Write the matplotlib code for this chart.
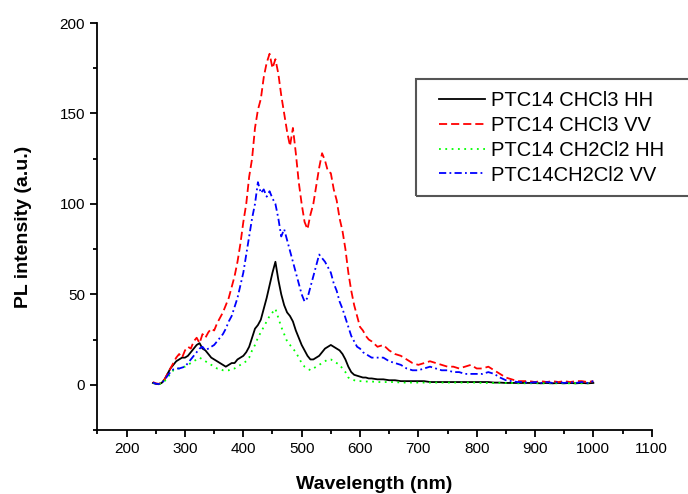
import numpy as np
import matplotlib
matplotlib.use("Agg")
import matplotlib.pyplot as plt
from matplotlib.patches import Rectangle

plt.rcParams['font.family'] = ['Liberation Sans', 'DejaVu Sans']

# wavelength grid (nm): 5 nm steps up to 620, then 10 nm steps
wavelength = np.concatenate([np.arange(245, 625, 5), np.arange(630, 1010, 10)])

chcl3_hh = [
    1, 0.5, 0.3, 1, 3, 6, 9, 11, 13, 14, 15, 15, 16, 18, 20, 22, 23, 20, 19, 17,
    15, 14, 13, 12, 11, 10, 11, 12, 12, 14, 15, 16, 18, 21, 26, 31, 33, 36, 42, 48,
    55, 62, 68, 58, 50, 44, 40, 38, 35, 30, 26, 22, 19, 16, 14, 14, 15, 16, 18, 20,
    21, 22, 21, 20, 19, 17, 14, 10, 7, 5.5, 5, 4.5, 4, 4, 3.5, 3.5,
    3, 3, 2.5, 2.5, 2, 2, 2, 2, 2, 1.5, 1.5, 1.5, 1.5, 1.5, 1.5, 1.5, 1.5, 1.5, 1.5, 1.5,
    1.2, 1.2, 1, 1, 1, 1, 1, 1, 0.8, 1, 0.8, 1, 0.8, 1, 0.8, 1, 0.8, 1,
]

chcl3_vv = [
    1.5, 0.8, 0.5, 1.2, 3, 6, 9, 12, 15, 17, 15, 19, 21, 20, 24, 26, 23, 28, 26, 29,
    31, 30, 34, 37, 40, 44, 48, 54, 60, 68, 78, 90, 100, 115, 125, 142, 152, 158, 170, 178,
    183, 175, 180, 172, 160, 150, 140, 132, 142, 128, 112, 100, 90, 86, 94, 100, 110, 120, 128, 124,
    118, 117, 108, 102, 92, 85, 75, 62, 52, 44, 38, 32, 30, 27, 25, 24,
    21, 22, 19, 17, 16, 14, 12, 11, 12, 13, 12, 11, 10, 10, 9, 10, 11, 9, 9, 10,
    8, 6, 4, 3, 2, 2, 2, 1.5, 2, 1.5, 2, 1.5, 2, 1.5, 2, 2, 1.5, 2,
]

ch2cl2_hh = [
    1, 0.5, 0.3, 0.8, 2, 4, 6, 8, 9, 9, 10, 10, 11, 12, 13, 14, 15, 14, 13, 12,
    11, 10, 9, 9, 8, 8, 8, 9, 9, 10, 11, 12, 13, 15, 19, 22, 26, 29, 32, 35,
    38, 40, 42, 37, 32, 28, 24, 22, 20, 18, 15, 12, 10, 9, 8, 9, 10, 11, 12, 13,
    14, 14, 13, 12, 11, 9, 7, 4, 3, 2.5, 2, 2, 2, 1.8, 1.8, 1.8,
    1.5, 1.5, 1.5, 1.5, 1.2, 1.2, 1.2, 1.2, 1.2, 1.2, 1.2, 1.2, 1.2, 1.2, 1.2, 1.2, 1.2, 1.2, 1, 1,
    1, 1, 1, 1, 0.8, 0.8, 0.8, 0.8, 0.8, 0.8, 0.8, 0.8, 0.8, 0.8, 0.8, 0.8, 0.8, 0.8,
]

ch2cl2_vv = [
    1.2, 0.6, 0.4, 1, 2.5, 5, 7, 8.5, 9, 9, 9.5, 10, 12, 14, 16, 18, 20, 21, 19, 20,
    21, 22, 24, 26, 28, 31, 35, 38, 43, 48, 55, 62, 72, 82, 92, 100, 112, 106, 108, 104,
    107, 103, 100, 92, 82, 86, 80, 74, 68, 62, 56, 50, 46, 48, 54, 60, 66, 72, 70, 68,
    65, 62, 56, 52, 46, 42, 37, 32, 27, 24, 21, 20, 18, 17, 16, 15,
    15, 15, 13, 12, 11, 9, 8, 8, 9, 10, 9, 8, 8, 7, 7, 6, 6, 6, 6, 7,
    6, 4, 2.5, 2, 1.5, 1.5, 1, 1.5, 1, 1.5, 1, 1.5, 1, 1.5, 1, 1.5, 1, 2,
]

fig = plt.figure(figsize=(6.88, 4.94), dpi=100)
ax = fig.add_axes([0.1417, 0.1296, 0.8055, 0.8238])

ax.plot(wavelength, chcl3_hh, color='black', lw=1.3, linestyle='-', label='PTC14 CHCl3 HH')
ax.plot(wavelength, chcl3_vv, color='#ff0000', lw=1.3, linestyle=(0, (4.5, 2.2)), label='PTC14 CHCl3 VV')
ax.plot(wavelength, ch2cl2_hh, color='#00ff00', lw=1.3, linestyle=(0, (1, 2.5)), label='PTC14 CH2Cl2 HH')
ax.plot(wavelength, ch2cl2_vv, color='#0000ff', lw=1.3, linestyle=(0, (4, 1.8, 1, 1.8)), label='PTC14CH2Cl2 VV')

ax.set_xlim(150, 1100)
ax.set_ylim(-25, 200)
ax.set_xticks(np.arange(200, 1101, 100))
ax.set_xticks(np.arange(150, 1101, 50), minor=True)
ax.set_yticks(np.arange(0, 201, 50))
ax.set_yticks(np.arange(-25, 201, 25), minor=True)

for side in ['top', 'right']:
    ax.spines[side].set_visible(False)
for side in ['left', 'bottom']:
    ax.spines[side].set_linewidth(1.3)

ax.tick_params(which='major', direction='out', length=5, width=1.3, labelsize=11, pad=4)
ax.tick_params(which='minor', direction='out', length=3, width=1.3)

ax.set_xlabel('Wavelength (nm)', fontsize=14, fontweight='bold', labelpad=14)
ax.set_ylabel('PL intensity (a.u.)', fontsize=14, fontweight='bold', labelpad=20)

# legend frame runs off the right edge of the figure
fig.add_artist(Rectangle((416 / 688, (494 - 196) / 494), (710 - 416) / 688, 117 / 494,
                         transform=fig.transFigure, fill=False, ec='#555555', lw=1.5))

leg = fig.legend(loc='upper left', bbox_to_anchor=(439 / 688, (494 - 91) / 494),
                 bbox_transform=fig.transFigure, borderaxespad=0, borderpad=0,
                 fontsize=14.5, frameon=False, handlelength=2.3,
                 handletextpad=0.3, labelspacing=0.29)

fig.savefig('out.png', dpi=100)
